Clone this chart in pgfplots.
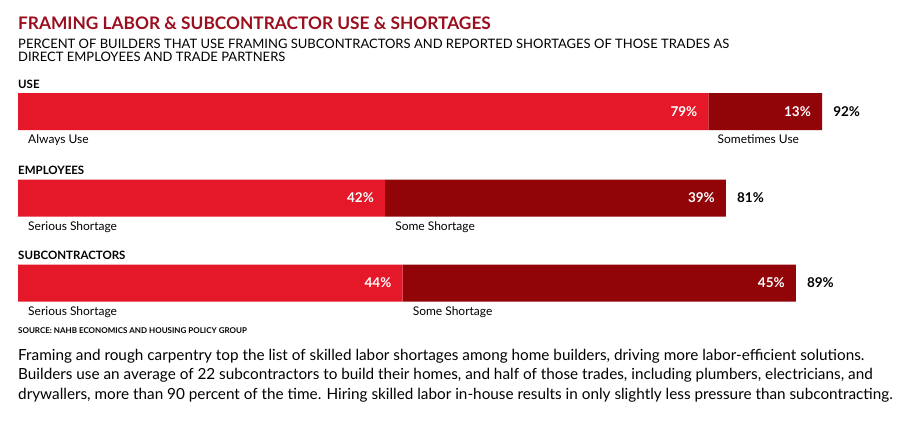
\documentclass[border=0pt]{standalone}
\usepackage{fontspec}
\setmainfont{Lato}
\usepackage{pgfplots}
\pgfplotsset{compat=1.18}
\definecolor{titlered}{RGB}{155,14,30}
\definecolor{lightbar}{RGB}{228,24,40}
\definecolor{darkbar}{RGB}{145,4,8}
\newcommand{\fs}[1]{\fontsize{#1bp}{#1bp}\selectfont}
\tikzset{
  vlab/.style={anchor=east, xshift=-11bp, text=white, font=\fs{13.5}\bfseries, inner sep=0pt},
  tlab/.style={anchor=west, xshift=11bp, font=\fs{13.5}\bfseries, inner sep=0pt},
  clab/.style={anchor=base west, inner sep=0pt, xshift=10bp, font=\fs{12}},
}
\begin{document}
\begin{tikzpicture}
\useasboundingbox (0bp,0bp) rectangle (917bp,-426bp);
% titles
\node[anchor=base west,inner sep=0pt,text=titlered] at (18bp,-29bp) {\fs{17.3}\bfseries FRAMING LABOR \& SUBCONTRACTOR USE \& SHORTAGES};
\node[anchor=base west,inner sep=0pt] at (18bp,-48bp) {\fs{13}PERCENT OF BUILDERS THAT USE FRAMING SUBCONTRACTORS AND REPORTED SHORTAGES OF THOSE TRADES AS};
\node[anchor=base west,inner sep=0pt] at (18bp,-61bp) {\fs{13}DIRECT EMPLOYEES AND TRADE PARTNERS};
% section labels
\node[anchor=base west,inner sep=0pt] at (18bp,-88bp) {\fs{11.5}\bfseries USE};
\node[anchor=base west,inner sep=0pt] at (18bp,-174bp) {\fs{11.5}\bfseries EMPLOYEES};
\node[anchor=base west,inner sep=0pt] at (18bp,-259bp) {\fs{11.5}\bfseries SUBCONTRACTORS};
\begin{axis}[
  at={(18bp,0bp)}, anchor=north west,
  scale only axis, width=874bp, height=426bp,
  xmin=0, xmax=100, ymin=0, ymax=426, y dir=reverse,
  hide axis, clip=false,
  xbar stacked, bar width=37bp,
  every axis plot/.append style={draw=none},
]
\addplot[fill=lightbar] table {
x y
79 111.5
42 198
44 283
};
\addplot[fill=darkbar] table {
x y
13 111.5
39 198
45 283
};
\coordinate (u1) at (axis cs:79,111.5);
\coordinate (u2) at (axis cs:92,111.5);
\coordinate (e1) at (axis cs:42,198);
\coordinate (e2) at (axis cs:81,198);
\coordinate (s1) at (axis cs:44,283);
\coordinate (s2) at (axis cs:89,283);
\node[tlab] at (axis cs:92,111.5) {92\%};
\node[tlab] at (axis cs:81,198) {81\%};
\node[tlab] at (axis cs:89,283) {89\%};
\node[clab] at (axis cs:0,143.5) {Always Use};
\node[clab, xshift=-1bp] at (axis cs:79,143.5) {Sometimes Use};
\node[clab] at (axis cs:0,230) {Serious Shortage};
\node[clab] at (axis cs:42,230) {Some Shortage};
\node[clab] at (axis cs:0,315) {Serious Shortage};
\node[clab] at (axis cs:44,315) {Some Shortage};
\end{axis}
\node[vlab] at (u1) {79\%};
\node[vlab] at (u2) {13\%};
\node[vlab] at (e1) {42\%};
\node[vlab] at (e2) {39\%};
\node[vlab] at (s1) {44\%};
\node[vlab] at (s2) {45\%};
\node[anchor=base west,inner sep=0pt] at (18bp,-333bp) {\fs{8}\bfseries SOURCE: NAHB ECONOMICS AND HOUSING POLICY GROUP};
\node[anchor=base west,inner sep=0pt] at (18bp,-360bp) {\fs{15.3}Framing and rough carpentry top the list of skilled labor shortages among home builders, driving more labor-efficient solutions.};
\node[anchor=base west,inner sep=0pt] at (18bp,-379.5bp) {\fs{15.3}Builders use an average of 22 subcontractors to build their homes, and half of those trades, including plumbers, electricians, and};
\node[anchor=base west,inner sep=0pt] at (18bp,-399bp) {\fs{15.3}drywallers, more than 90 percent of the time. Hiring skilled labor in-house results in only slightly less pressure than subcontracting.};
\end{tikzpicture}
\end{document}
